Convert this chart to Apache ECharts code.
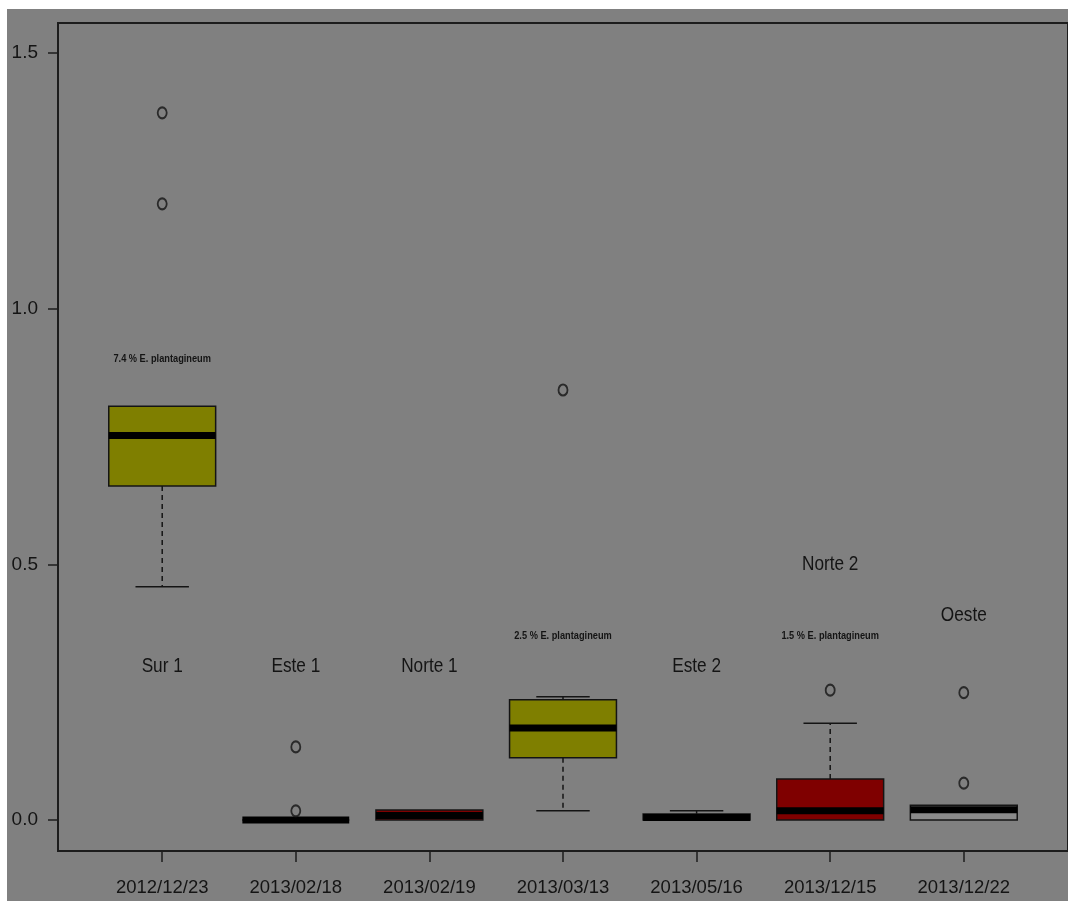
<!DOCTYPE html>
<html>
<head>
<meta charset="utf-8">
<script src="https://cdn.jsdelivr.net/npm/echarts@6/dist/echarts.min.js"></script>
<style>
  html, body { margin: 0; padding: 0; background: #ffffff; }
  #chart { position: absolute; left: 7px; top: 9px; width: 1061px; height: 892px; background: #808080; }
</style>
</head>
<body>
<div id="chart"></div>
<script>
// Sampling dates, one box per date
const categories = ['2012/12/23', '2013/02/18', '2013/02/19', '2013/03/13', '2013/05/16', '2013/12/15', '2013/12/22'];
// Site names written above each box (empty where none)
const sites = ['Sur 1', 'Este 1', 'Norte 1', '', 'Este 2', 'Norte 2', 'Oeste'];
const siteLabelY = [0.30, 0.30, 0.30, null, 0.30, 0.50, 0.40];
// Share of E. plantagineum noted above some boxes
const shareText = ['7.4 % E. plantagineum', '', '', '2.5 % E. plantagineum', '', '1.5 % E. plantagineum', ''];
const shareLabelY = [0.902, null, null, 0.36, null, 0.36, null];
// Box statistics: lower whisker, Q1, median, Q3, upper whisker
const lowWhisker = [0.456, 0.000, 0.000, 0.018, 0.000, 0.000, 0.000];
const q1         = [0.653, 0.000, 0.000, 0.122, 0.000, 0.000, 0.000];
const median     = [0.752, 0.000, 0.009, 0.180, 0.005, 0.018, 0.020];
const q3         = [0.809, 0.000, 0.0196, 0.235, 0.012, 0.080, 0.029];
const highWhisker= [0.809, 0.000, 0.0196, 0.241, 0.018, 0.189, 0.029];
// Outlying observations per box
const outliers = [[1.383, 1.205], [0.143, 0.018], [], [0.841], [], [0.254], [0.249, 0.072]];
// Box fill per date
const fills = ['#7f7f00', '#7f7f7f', '#7f0000', '#7f7f00', '#7f7f7f', '#7f0000', '#8a8a8a'];
const yTicks = [0, 0.5, 1.0, 1.5];

const ink = '#141414';
const font = '"Liberation Sans", Arial, sans-serif';

const boxData = categories.map((c, i) => [i + 1, lowWhisker[i], q1[i], median[i], q3[i], highWhisker[i], i]);
const outlierData = [];
outliers.forEach((arr, i) => arr.forEach(v => outlierData.push([i + 1, v])));
const labelData = [];
sites.forEach((s, i) => { if (s) labelData.push([i + 1, siteLabelY[i], s, 0]); });
shareText.forEach((s, i) => { if (s) labelData.push([i + 1, shareLabelY[i], s, 1]); });

function renderBox(params, api) {
  const x = api.value(0);
  const idx = api.value(6);
  const half = api.size([0.8, 0])[0] / 2;
  const capHalf = half / 2;
  const pLow = api.coord([x, api.value(1)]);
  const pQ1 = api.coord([x, api.value(2)]);
  const pMed = api.coord([x, api.value(3)]);
  const pQ3 = api.coord([x, api.value(4)]);
  const pHigh = api.coord([x, api.value(5)]);
  const cx = pQ1[0];
  const dashStyle = { stroke: ink, lineWidth: 1.5, lineDash: [5, 4] };
  const solid = { stroke: ink, lineWidth: 1.5 };
  const children = [];
  // whiskers
  if (pLow[1] - pQ1[1] > 0.5) {
    children.push({ type: 'line', shape: { x1: cx, y1: pQ1[1], x2: cx, y2: pLow[1] }, style: dashStyle });
    children.push({ type: 'line', shape: { x1: cx - capHalf, y1: pLow[1], x2: cx + capHalf, y2: pLow[1] }, style: solid });
  }
  if (pQ3[1] - pHigh[1] > 0.5) {
    children.push({ type: 'line', shape: { x1: cx, y1: pQ3[1], x2: cx, y2: pHigh[1] }, style: dashStyle });
    children.push({ type: 'line', shape: { x1: cx - capHalf, y1: pHigh[1], x2: cx + capHalf, y2: pHigh[1] }, style: solid });
  }
  // box
  children.push({
    type: 'rect',
    shape: { x: cx - half, y: pQ3[1], width: half * 2, height: Math.max(pQ1[1] - pQ3[1], 0) },
    style: { fill: fills[idx], stroke: ink, lineWidth: 1.5 }
  });
  // median
  children.push({ type: 'line', shape: { x1: cx - half, y1: pMed[1], x2: cx + half, y2: pMed[1] }, style: { stroke: '#000', lineWidth: 7 } });
  return { type: 'group', children };
}

function renderLabel(params, api) {
  const p = api.coord([api.value(0), api.value(1)]);
  const small = api.value(3) === 1;
  return {
    type: 'text',
    x: p[0], y: p[1],
    scaleX: small ? 0.84 : 0.82,
    style: {
      text: labelData[params.dataIndex][2],
      fill: ink,
      font: (small ? 'bold 11px ' : '21px ') + font,
      align: 'center', verticalAlign: 'middle'
    }
  };
}

const chart = echarts.init(document.getElementById('chart'));
chart.setOption({
  backgroundColor: '#808080',
  animation: false,
  grid: { left: 51, top: 14, width: 1012, height: 828, show: true, borderColor: '#1c1c1c', borderWidth: 2, backgroundColor: 'transparent' },
  xAxis: {
    type: 'value', min: 0.22, max: 7.78,
    splitLine: { show: false },
    axisLine: { show: true, onZero: false, lineStyle: { color: '#1c1c1c', width: 2 } },
    axisTick: { show: true, length: 11, lineStyle: { color: '#1c1c1c', width: 1.5 }, customValues: [1, 2, 3, 4, 5, 6, 7] },
    axisLabel: {
      customValues: [1, 2, 3, 4, 5, 6, 7],
      formatter: v => categories[Math.round(v) - 1],
      color: ink, fontFamily: font, fontSize: 18.5, margin: 27
    }
  },
  yAxis: {
    type: 'value', min: -0.0606, max: 1.5587,
    splitLine: { show: false },
    axisLine: { show: true, onZero: false, lineStyle: { color: '#1c1c1c', width: 2 } },
    axisTick: { show: true, length: 10, lineStyle: { color: '#1c1c1c', width: 1.5 }, customValues: yTicks },
    axisLabel: {
      customValues: yTicks,
      formatter: v => v.toFixed(1),
      color: ink, fontFamily: font, fontSize: 19, margin: 20
    }
  },
  series: [
    { type: 'custom', renderItem: renderBox, data: boxData, encode: { x: 0, y: [1, 5] }, z: 2 },
    {
      type: 'scatter', data: outlierData, symbol: 'circle', symbolSize: [9, 11],
      itemStyle: { color: 'transparent', borderColor: ink, borderWidth: 2 }, z: 3
    },
    { type: 'custom', renderItem: renderLabel, data: labelData.map(d => [d[0], d[1], 0, d[3]]), encode: { x: 0, y: 1 }, z: 4 }
  ]
});
</script>
</body>
</html>
